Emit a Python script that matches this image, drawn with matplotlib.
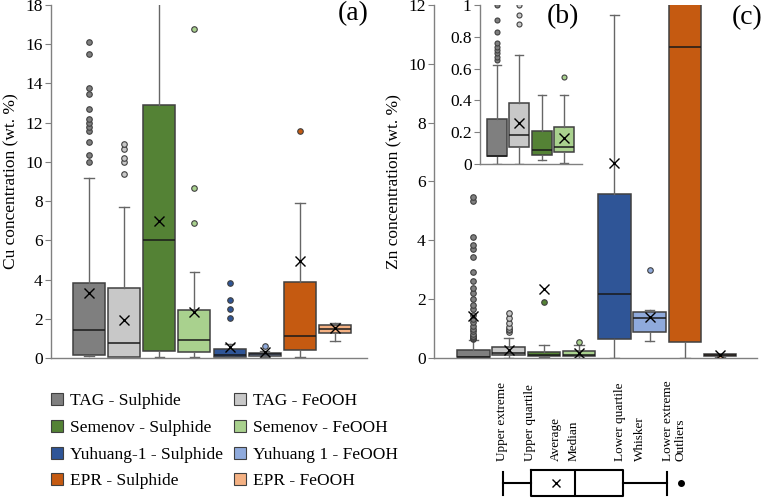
import matplotlib
matplotlib.use('Agg')
import matplotlib.pyplot as plt
from matplotlib.patches import Patch

plt.rcParams['font.family'] = ['Liberation Serif', 'DejaVu Serif']

# ---------------- data ----------------
groups = ['TAG - Sulphide', 'TAG - FeOOH', 'Semenov - Sulphide', 'Semenov - FeOOH',
          'Yuhuang-1 - Sulphide', 'Yuhuang 1 - FeOOH', 'EPR - Sulphide', 'EPR - FeOOH']
colors = ['#7f7f7f', '#c8c8c8', '#548235', '#a9d18e',
          '#2f5597', '#8faadc', '#c55a11', '#f4b183']

# Cu (wt. %)
cu_whislo = [0.08, 0.00, 0.05, 0.03, 0.03, 0.05, 0.05, 0.87]
cu_q1     = [0.17, 0.05, 0.36, 0.29, 0.07, 0.10, 0.39, 1.26]
cu_med    = [1.43, 0.78, 6.03, 0.90, 0.15, 0.18, 1.12, 1.48]
cu_q3     = [3.80, 3.58, 12.9, 2.45, 0.44, 0.24, 3.85, 1.68]
cu_whishi = [9.17, 7.70, 22.0, 4.41, 0.71, 0.37, 7.90, 1.80]
cu_mean   = [3.30, 1.95, 7.00, 2.34, 0.58, 0.30, 4.97, 1.53]
cu_fliers = [
    [10.0, 10.35, 11.0, 11.6, 11.8, 12.0, 12.2, 12.7, 13.45, 13.75, 15.5, 16.1],
    [9.39, 9.97, 10.19, 10.66, 10.9],
    [],
    [6.89, 8.69, 16.77],
    [2.04, 2.48, 2.94, 3.80],
    [0.61],
    [11.6],
    [],
]

# Zn (wt. %)
zn_whislo = [0.00, 0.00, 0.025, 0.008, 0.00, 0.57, 0.00, 0.05]
zn_q1     = [0.048, 0.107, 0.057, 0.073, 0.65, 0.90, 0.53, 0.08]
zn_med    = [0.05, 0.18, 0.086, 0.11, 2.18, 1.36, 10.57, 0.10]
zn_q3     = [0.28, 0.384, 0.21, 0.23, 5.58, 1.58, 14.0, 0.12]
zn_whishi = [0.62, 0.686, 0.434, 0.434, 11.66, 1.64, 20.0, 0.14]
zn_mean   = [1.44, 0.26, 2.36, 0.164, 6.63, 1.38, 13.0, 0.10]
zn_fliers = [
    [0.654, 0.675, 0.696, 0.717, 0.738, 0.763, 0.832, 0.906, 1.0, 1.08, 1.21, 1.33,
     1.47, 1.67, 1.80, 2.01, 2.21, 2.38, 2.61, 2.91, 3.42, 3.72, 3.83, 4.12, 5.33, 5.46],
    [0.88, 0.94, 1.0, 1.05, 1.19, 1.36, 1.53],
    [1.89],
    [0.55],
    [],
    [3.0],
    [],
    [0.02],
]

cu_ticks = [0, 2, 4, 6, 8, 10, 12, 14, 16, 18]
zn_ticks = [0, 2, 4, 6, 8, 10, 12]
inset_ticks = [0, 0.2, 0.4, 0.6, 0.8, 1.0]
inset_ticklabels = ['0', '0.2', '0.4', '0.6', '0.8', '1']

# explanatory schematic (c)
schem_labels = ['Upper extreme', 'Upper quartile', 'Average', 'Median',
                'Lower quartile', 'Whisker', 'Lower extreme', 'Outliers']
schem_stats = dict(whislo=503, q1=531, med=575, q3=623, whishi=667, mean=556, fliers=[681])
schem_label_x = [502, 530, 556, 574, 620, 640, 668, 681]


def make_stats(lo, q1, med, q3, hi, mean, fl):
    return [dict(whislo=a, q1=b, med=c, q3=d, whishi=e, mean=f, fliers=g)
            for a, b, c, d, e, f, g in zip(lo, q1, med, q3, hi, mean, fl)]


def draw(ax, stats, cols, width, capw, fsize=4):
    pos = list(range(1, len(stats) + 1))
    res = ax.bxp(stats, positions=pos, widths=width, patch_artist=True,
                 showmeans=True, capwidths=capw, manage_ticks=False,
                 boxprops=dict(edgecolor='#404040', linewidth=1.1),
                 whiskerprops=dict(color='#666666', linewidth=1.0),
                 capprops=dict(color='#666666', linewidth=1.0),
                 medianprops=dict(color='#1a1a1a', linewidth=1.1),
                 meanprops=dict(marker='x', markeredgecolor='black', markersize=7,
                                markeredgewidth=1.0, linestyle='none'),
                 flierprops=dict(marker='o', markersize=fsize, markeredgecolor='#404040',
                                 markeredgewidth=0.8, linestyle='none'))
    for b, c in zip(res['boxes'], cols):
        b.set_facecolor(c)
    for f, c in zip(res['fliers'], cols):
        f.set_markerfacecolor(c)
    return res


def style(ax):
    for s in ['top', 'right']:
        ax.spines[s].set_visible(False)
    for s in ['left', 'bottom']:
        ax.spines[s].set_color('#808080')
        ax.spines[s].set_linewidth(1.0)
    ax.tick_params(axis='y', direction='out', length=4, color='#808080',
                   labelsize=12.5, pad=2)
    ax.tick_params(axis='x', bottom=False, labelbottom=False)


fig = plt.figure(figsize=(7.62, 4.98), dpi=100)

# panel (a)
ax_a = fig.add_axes([51 / 762, 1 - 358 / 498, 316 / 762, 353 / 498])
draw(ax_a, make_stats(cu_whislo, cu_q1, cu_med, cu_q3, cu_whishi, cu_mean, cu_fliers),
     colors, 0.91, 0.27)
ax_a.set_xlim(-0.08, 8.91)
ax_a.set_ylim(0, 18)
ax_a.set_yticks(cu_ticks)
style(ax_a)
ax_a.set_ylabel('Cu concentration (wt. %)', fontsize=12.5, labelpad=4)
ax_a.text(0.955, 0.975, '(a)', transform=ax_a.transAxes, ha='center', va='center',
          fontsize=20)

# panel (b)
ax_b = fig.add_axes([434 / 762, 1 - 358 / 498, 323 / 762, 353 / 498])
draw(ax_b, make_stats(zn_whislo, zn_q1, zn_med, zn_q3, zn_whishi, zn_mean, zn_fliers),
     colors, 0.92, 0.27)
ax_b.set_xlim(-0.12, 9.05)
ax_b.set_ylim(0, 12)
ax_b.set_yticks(zn_ticks)
style(ax_b)
ax_b.set_ylabel('Zn concentration (wt. %)', fontsize=12.5, labelpad=4)
ax_b.text((747 - 434) / 323, 0.965, '(c)', transform=ax_b.transAxes, ha='center',
          va='center', fontsize=20)

# inset (b)
ax_i = fig.add_axes([480 / 762, 1 - 164 / 498, 102 / 762, 159 / 498])
draw(ax_i, make_stats(zn_whislo[:4], zn_q1[:4], zn_med[:4], zn_q3[:4], zn_whishi[:4],
                      zn_mean[:4], zn_fliers[:4]), colors[:4], 0.89, 0.36, fsize=3.6)
ax_i.set_xlim(0.24, 4.8)
ax_i.set_ylim(0, 1)
ax_i.set_yticks(inset_ticks)
ax_i.set_yticklabels(inset_ticklabels)
style(ax_i)
ax_i.patch.set_alpha(0)
fig.text(563 / 762, 1 - 17 / 498, '(b)', ha='center', va='center', fontsize=20)

# legend
order = [0, 2, 4, 6, 1, 3, 5, 7]
handles = [Patch(facecolor=colors[i], edgecolor='#404040', linewidth=0.8) for i in order]
labels = [groups[i] for i in order]
fig.legend(handles, labels, ncol=2, loc='upper left',
           bbox_to_anchor=(51 / 762, 1 - 393 / 498), frameon=False, fontsize=12.5,
           handlelength=0.68, handleheight=0.68, handletextpad=0.42,
           columnspacing=0.65, labelspacing=0.62, borderpad=0, borderaxespad=0)

# schematic (c)
ax_c = fig.add_axes([0, 0, 1, 1])
ax_c.set_xlim(0, 762)
ax_c.set_ylim(498, 0)
ax_c.axis('off')
ax_c.patch.set_alpha(0)
ax_c.bxp([schem_stats], positions=[483], widths=26, orientation='horizontal',
         showmeans=True, capwidths=23, manage_ticks=False,
         boxprops=dict(color='black', linewidth=1.5),
         whiskerprops=dict(color='black', linewidth=1.5),
         capprops=dict(color='black', linewidth=1.5),
         medianprops=dict(color='black', linewidth=1.5),
         meanprops=dict(marker='x', markeredgecolor='black', markersize=6,
                        markeredgewidth=1.0, linestyle='none'),
         flierprops=dict(marker='o', markersize=4, markerfacecolor='black',
                         markeredgecolor='black', linestyle='none'))
for lab, x in zip(schem_labels, schem_label_x):
    ax_c.text(x, 461, lab, rotation=90, ha='center', va='bottom', fontsize=9.5)

fig.savefig('out.png', dpi=100)
